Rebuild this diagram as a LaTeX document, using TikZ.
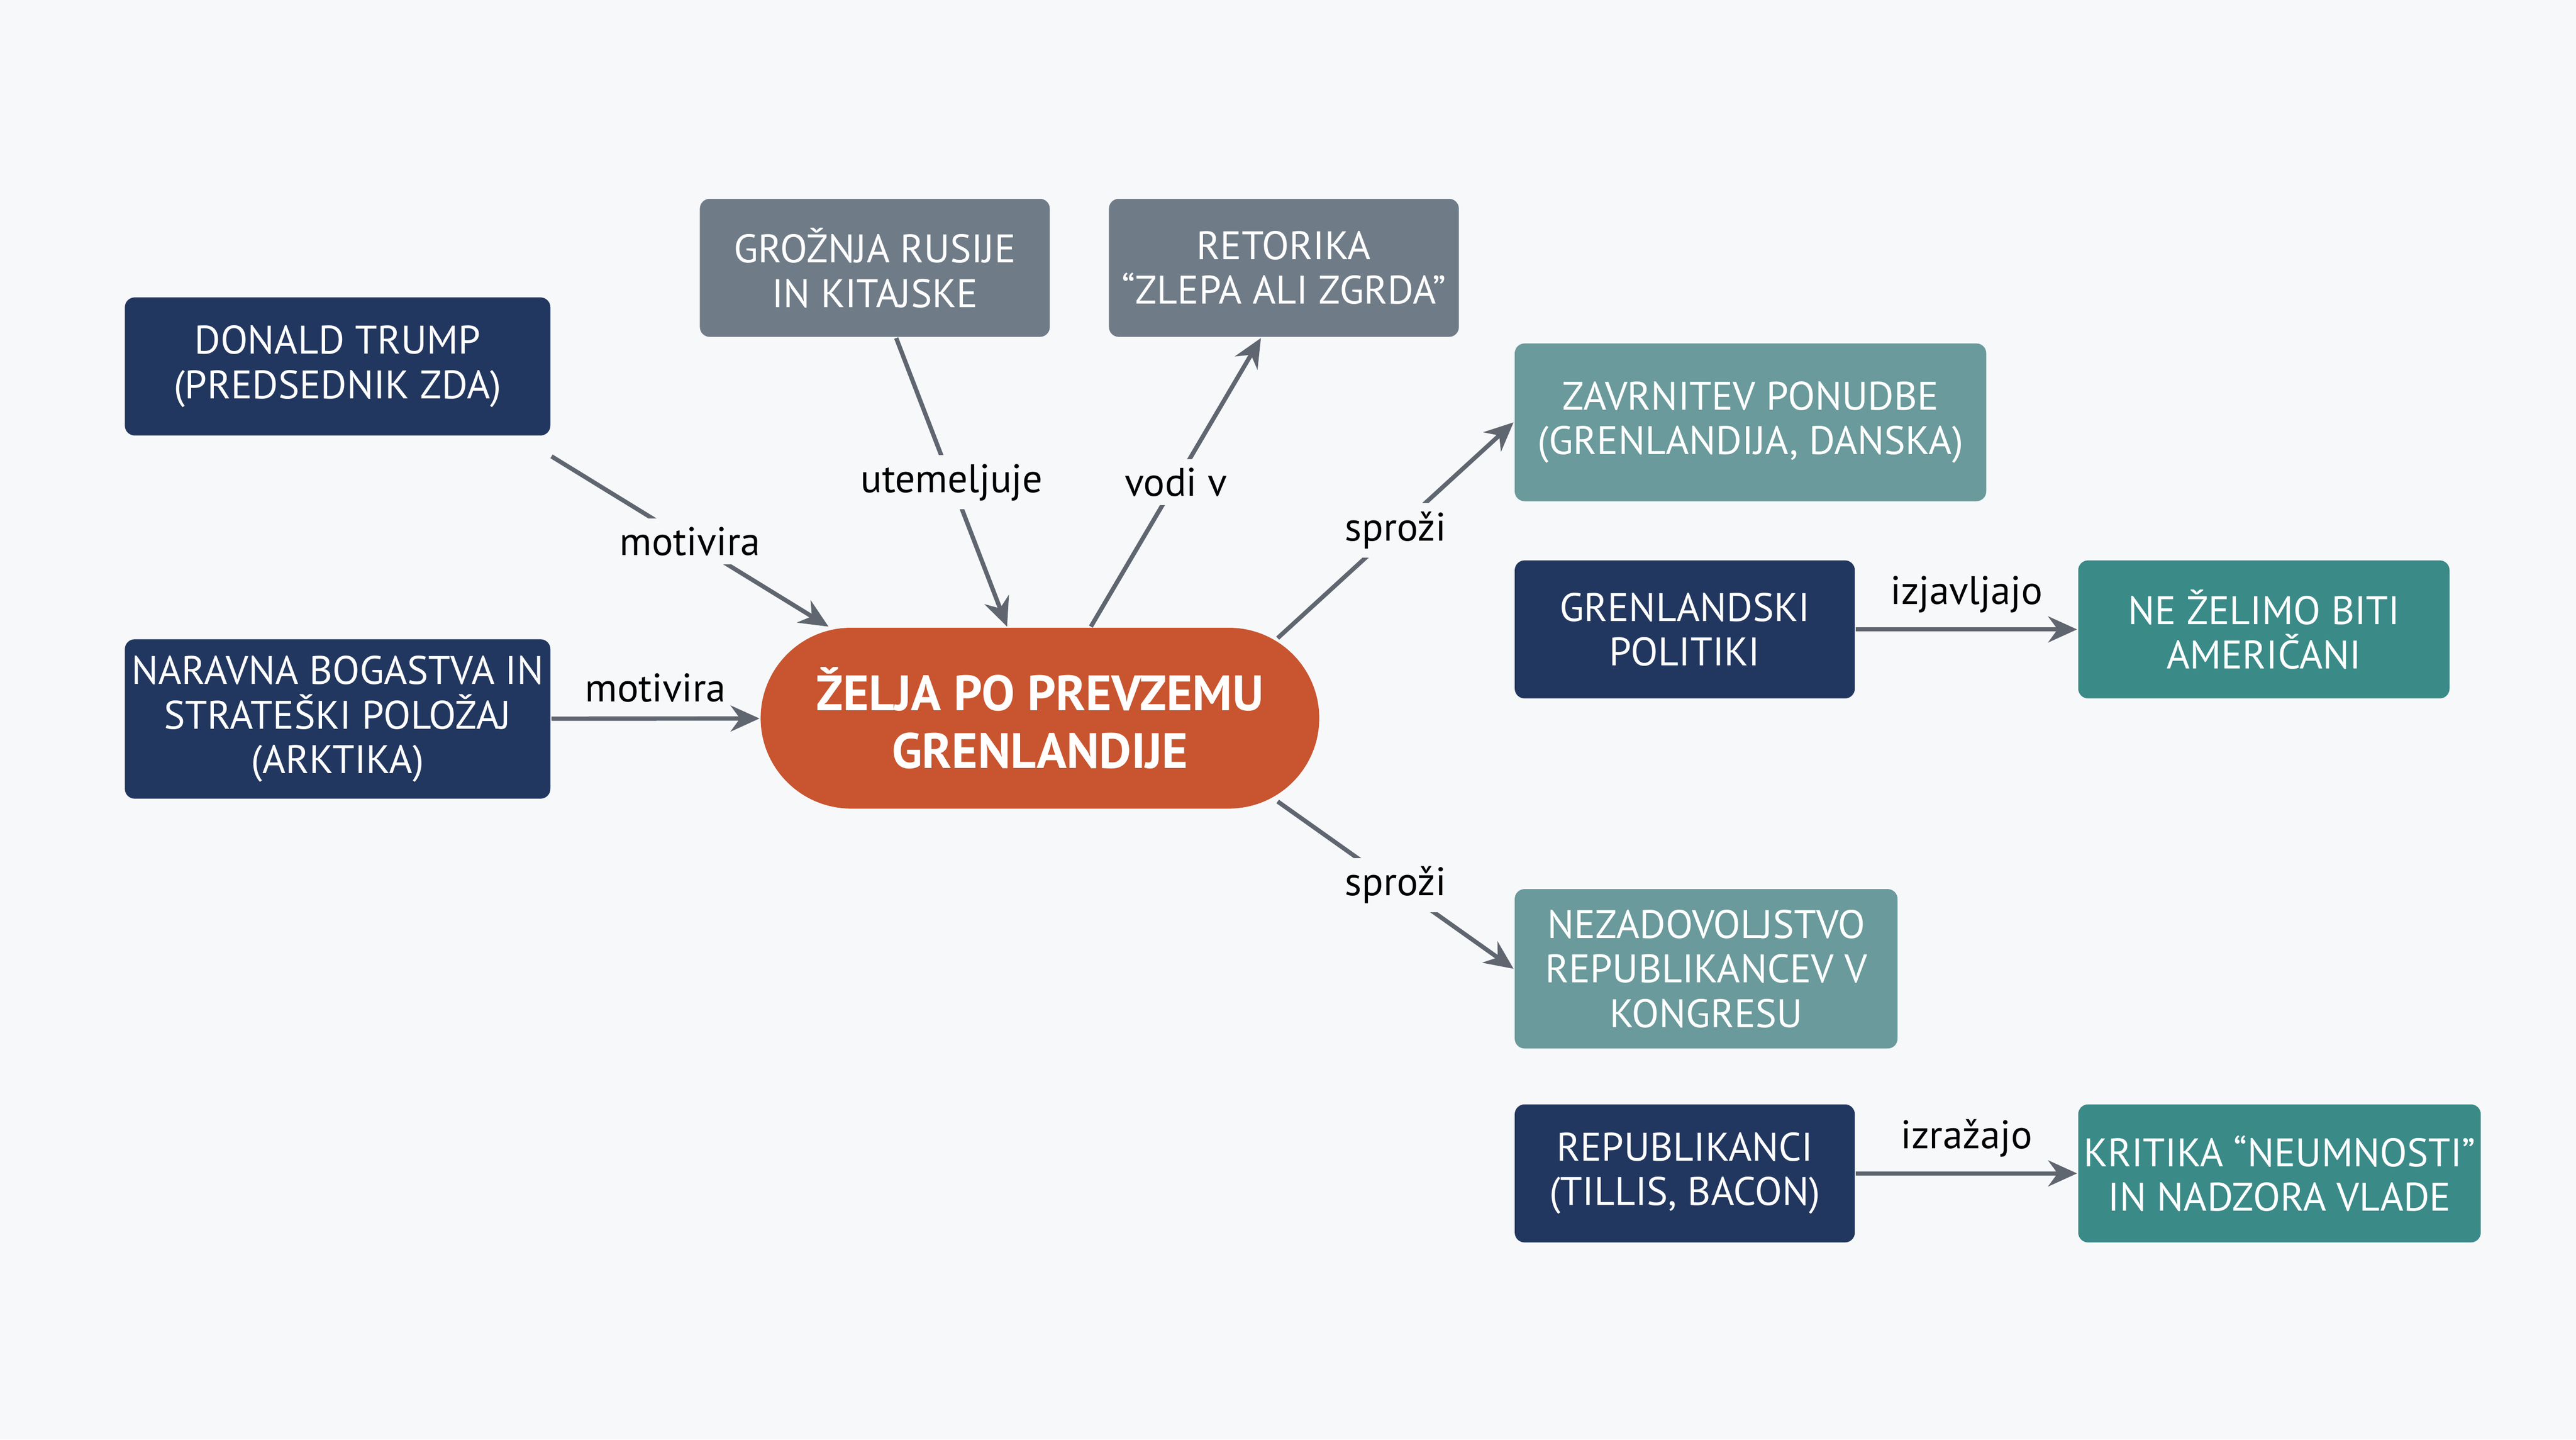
\documentclass[tikz,border=0pt]{standalone}
\usepackage{fontspec}
\setmainfont{PT Sans}
\usetikzlibrary{arrows.meta}
\definecolor{bg}{HTML}{F7F8FA}
\definecolor{navy}{HTML}{22375F}
\definecolor{slate}{HTML}{6F7C88}
\definecolor{sea}{HTML}{6A9A9B}
\definecolor{teal}{HTML}{3A8A88}
\definecolor{rust}{HTML}{C8552F}
\definecolor{wire}{HTML}{5F6670}
\tikzset{
  box/.style={rectangle, rounded corners=0.06cm, text=white, align=center, inner sep=0pt,
    font=\fontsize{6.9}{7.7}\selectfont},
  link/.style={draw=wire, line width=0.75pt, -{Stealth[length=5pt,width=4.5pt]}},
  tag/.style={fill=bg, inner sep=1.5pt, font=\fontsize{6.9}{8}\selectfont, text=black}
}
\begin{document}
\begin{tikzpicture}
\fill[bg] (0,0) rectangle (15.68,8.76);
\useasboundingbox (0,0) rectangle (15.68,8.76);
\node[box, fill=navy,  minimum width=2.59cm, minimum height=0.84cm] (trump)     at (2.055,6.53)  {DONALD TRUMP\\(PREDSEDNIK ZDA)};
\node[box, fill=navy,  minimum width=2.59cm, minimum height=0.97cm] (naravna)   at (2.055,4.385) {NARAVNA BOGASTVA IN\\STRATEŠKI POLOŽAJ\\(ARKTIKA)};
\node[box, fill=slate, minimum width=2.13cm, minimum height=0.84cm] (groznja)   at (5.325,7.13)  {GROŽNJA RUSIJE\\IN KITAJSKE};
\node[box, fill=slate, minimum width=2.13cm, minimum height=0.84cm] (retorika)  at (7.815,7.13)  {RETORIKA\\“ZLEPA ALI ZGRDA”};
\node[box, fill=rust, rounded corners=0.55cm, minimum width=3.40cm, minimum height=1.10cm,
      font=\bfseries\fontsize{8.6}{10}\selectfont] (zelja) at (6.33,4.39) {ŽELJA PO PREVZEMU\\GRENLANDIJE};
\node[box, fill=sea,   minimum width=2.87cm, minimum height=0.96cm] (zavrnitev) at (10.655,6.19) {ZAVRNITEV PONUDBE\\(GRENLANDIJA, DANSKA)};
\node[box, fill=navy,  minimum width=2.07cm, minimum height=0.84cm] (politiki)  at (10.255,4.93) {GRENLANDSKI\\POLITIKI};
\node[box, fill=teal,  minimum width=2.26cm, minimum height=0.84cm] (nezelimo)  at (13.78,4.93)  {NE ŽELIMO BITI\\AMERIČANI};
\node[box, fill=sea,   minimum width=2.33cm, minimum height=0.97cm] (nezad)     at (10.385,2.865) {NEZADOVOLJSTVO\\REPUBLIKANCEV V\\KONGRESU};
\node[box, fill=navy,  minimum width=2.07cm, minimum height=0.84cm] (republ)    at (10.255,1.62) {REPUBLIKANCI\\(TILLIS, BACON)};
\node[box, fill=teal,  minimum width=2.45cm, minimum height=0.84cm] (kritika)   at (13.875,1.62) {KRITIKA “NEUMNOSTI”\\IN NADZORA VLADE};
% connectors
\draw[link] ([yshift=-0.12cm]trump.south east) -- node[tag] {motivira} ([xshift=0.42cm]zelja.north west);
\draw[link] (naravna) -- node[tag, above=1pt, fill=none] {motivira} (zelja);
\draw[link] ([xshift=0.13cm]groznja.south) -- node[tag] {utemeljuje} ([xshift=-0.20cm]zelja.north);
\draw[link] ([xshift=0.31cm]zelja.north) -- node[tag] {vodi v} ([xshift=-0.14cm]retorika.south);
\draw[link] ([xshift=-0.26cm,yshift=-0.07cm]zelja.north east) -- node[tag] {sproži} (zavrnitev.west);
\draw[link] ([xshift=-0.26cm,yshift=0.05cm]zelja.south east) -- node[tag] {sproži} (nezad.west);
\draw[link] (politiki) -- node[tag, above=1pt, fill=none] {izjavljajo} (nezelimo);
\draw[link] (republ) -- node[tag, above=1pt, fill=none] {izražajo} (kritika);
\end{tikzpicture}
\end{document}
